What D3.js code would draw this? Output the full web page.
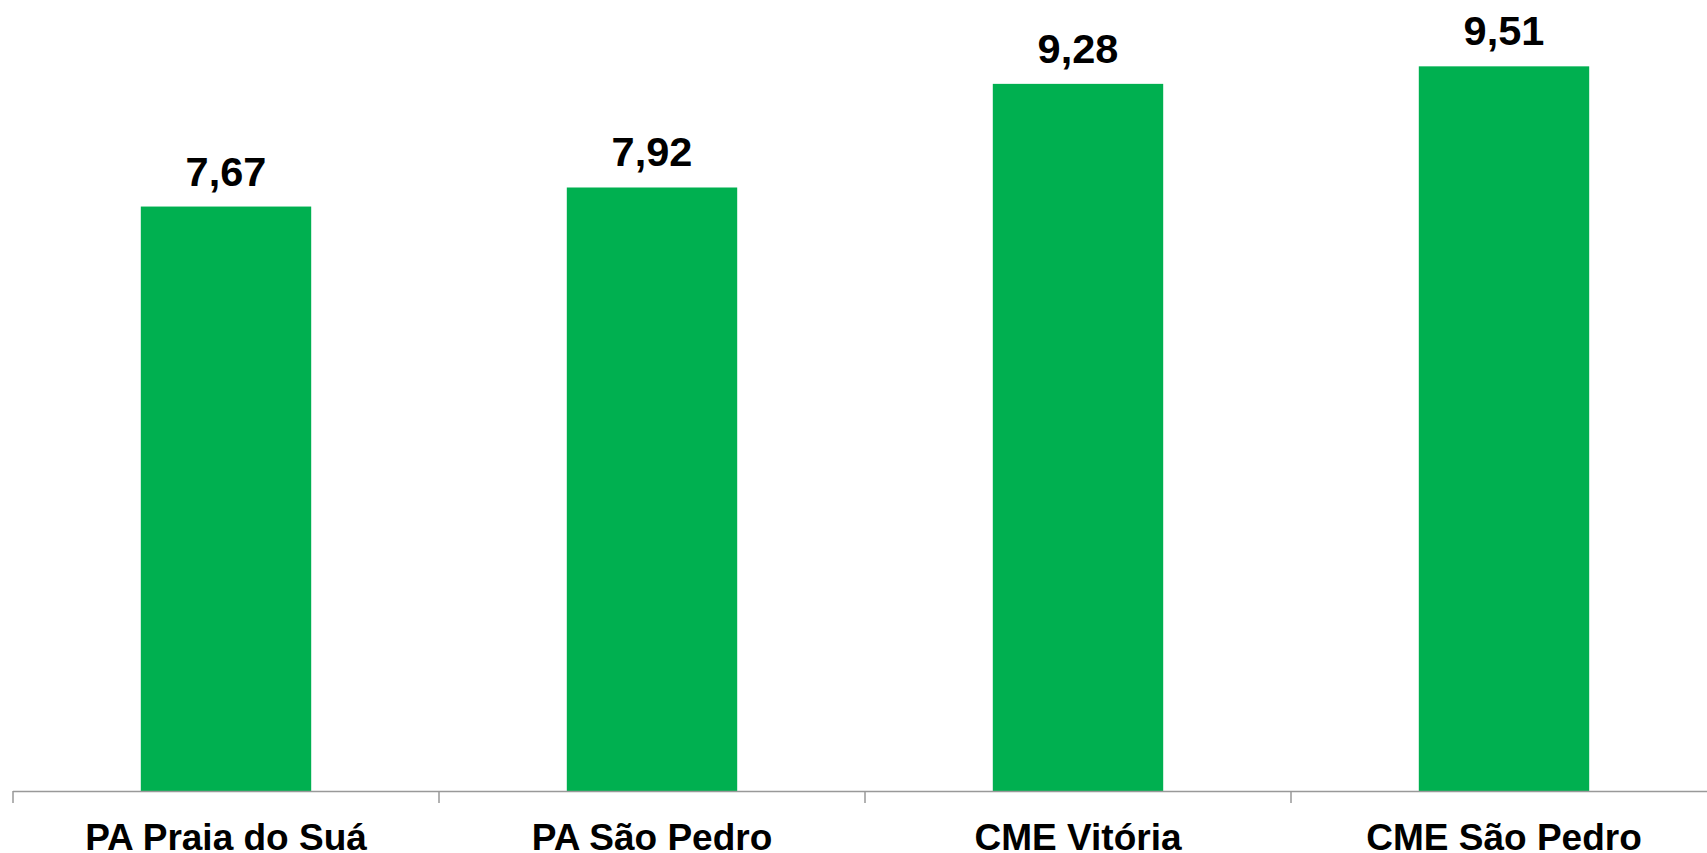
<!DOCTYPE html>
<html>
<head>
<meta charset="utf-8">
<script src="https://cdn.jsdelivr.net/npm/d3@7"></script>
<style>
  html, body { margin: 0; padding: 0; background: #fff; overflow: hidden; }
  text { font-family: "Liberation Sans", Arial, sans-serif; font-weight: bold; fill: #000; }
</style>
</head>
<body>
<svg class="barsvg" width="1707" height="853"></svg>
<script>
var categories = ["PA Praia do Suá", "PA São Pedro", "CME Vitória", "CME São Pedro"];
var values = [7.67, 7.92, 9.28, 9.51];
var labels = ["7,67", "7,92", "9,28", "9,51"];

var svg = d3.select(".barsvg"),
    plotLeft = 13,
    plotRight = 1717,
    baseline = 791,
    plotTop = 29;

var g = svg.append("g");

var xScale = d3.scaleBand().domain(categories).range([plotLeft, plotRight])
    .paddingInner(0.6).paddingOuter(0.3);
var yScale = d3.scaleLinear().domain([0, 10]).range([baseline, plotTop]);

// bars
g.selectAll("rect")
    .data(values)
    .enter().append("rect")
    .attr("x", function(d, i) { return xScale(categories[i]); })
    .attr("y", function(d) { return yScale(d); })
    .attr("width", xScale.bandwidth())
    .attr("height", function(d) { return baseline - yScale(d); })
    .attr("fill", "#00b050");

// value labels
g.selectAll(".val")
    .data(values)
    .enter().append("text")
    .attr("class", "val")
    .attr("x", function(d, i) { return xScale(categories[i]) + xScale.bandwidth() / 2; })
    .attr("y", function(d) { return yScale(d) - 21; })
    .attr("text-anchor", "middle")
    .style("font-size", "41.5px")
    .text(function(d, i) { return labels[i]; });

// category axis: line plus ticks between categories
var step = xScale.step();
var axis = g.append("g");
axis.append("line")
    .attr("x1", plotLeft).attr("x2", plotRight)
    .attr("y1", baseline + 0.5).attr("y2", baseline + 0.5)
    .attr("stroke", "#999").attr("stroke-width", 1.5);
axis.selectAll(".tick")
    .data(d3.range(categories.length + 1))
    .enter().append("line")
    .attr("x1", function(i) { return plotLeft + i * step; })
    .attr("x2", function(i) { return plotLeft + i * step; })
    .attr("y1", baseline).attr("y2", baseline + 12)
    .attr("stroke", "#999").attr("stroke-width", 1.5);

axis.selectAll(".cat")
    .data(categories)
    .enter().append("text")
    .attr("class", "cat")
    .attr("x", function(d) { return xScale(d) + xScale.bandwidth() / 2; })
    .attr("y", 849.5)
    .attr("text-anchor", "middle")
    .style("font-size", "37px")
    .text(function(d) { return d; });
</script>
</body>
</html>
